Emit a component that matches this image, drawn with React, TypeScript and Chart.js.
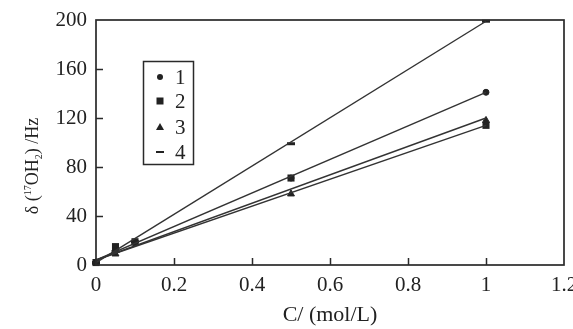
import React, { useEffect, useRef } from 'react';
import { Chart, registerables } from 'chart.js';
Chart.register(...registerables);

// Concentrations (mol/L) and measured shifts (Hz)
const concentrations = [0, 0.05, 0.1, 0.5, 1];
const series1 = [2, 12, 18, 71, 141];
const series2 = [2, 15, 19, 71, 114];
const series3 = [2, 9, 18, 58, 118];
const series4 = [2, 11, 19, 99, 199];

// Linear fit lines (endpoints)
const fitX = [0, 1];
const fit1 = [4, 141];
const fit2 = [4, 114];
const fit3 = [4, 120];
const fit4 = [2, 199];

const legendLabels = ['1', '2', '3', '4'];
const xTicks = [0, 0.2, 0.4, 0.6, 0.8, 1, 1.2];
const yTicks = [0, 40, 80, 120, 160, 200];

const FONT = '"Liberation Serif", "DejaVu Serif", serif';
const INK = '#222';
const LINE = '#333';

const pts = (xs: number[], ys: number[]) => xs.map((x, i) => ({ x, y: ys[i] }));

const framePlugin = {
  id: 'frameTicks',
  afterDatasetsDraw(chart: any) {
    const { ctx, chartArea, scales } = chart;
    const { left, right, top, bottom } = chartArea;
    const xs = scales.x, ys = scales.y;
    ctx.save();
    ctx.strokeStyle = '#2a2a2a';
    ctx.lineWidth = 1.7;
    ctx.strokeRect(left, top, right - left, bottom - top);
    ctx.lineWidth = 1.5;
    ctx.beginPath();
    xTicks.forEach((v) => {
      const px = Math.round(xs.getPixelForValue(v)) + 0.5;
      if (v > 0 && v < 1.2) {
        ctx.moveTo(px, bottom);
        ctx.lineTo(px, bottom - 7);
      }
    });
    yTicks.forEach((v) => {
      const py = Math.round(ys.getPixelForValue(v)) + 0.5;
      if (v > 0 && v < 200) {
        ctx.moveTo(left, py);
        ctx.lineTo(left + 7, py);
      }
    });
    ctx.stroke();
    ctx.restore();
  },
  afterDraw(chart: any) {
    const { ctx } = chart;
    ctx.save();
    // Y axis title with super/subscripts
    ctx.translate(32, 166);
    ctx.rotate(-Math.PI / 2);
    ctx.fillStyle = INK;
    ctx.textBaseline = 'alphabetic';
    const parts = [
      { t: 'δ (', s: 18, dy: 0 },
      { t: '17', s: 10, dy: -7 },
      { t: 'OH', s: 18, dy: 0 },
      { t: '2', s: 10, dy: 4 },
      { t: ') /Hz', s: 18, dy: 0 },
    ];
    let total = 0;
    parts.forEach((p) => {
      ctx.font = `${p.s}px ${FONT}`;
      total += ctx.measureText(p.t).width;
    });
    let cx = -total / 2;
    parts.forEach((p) => {
      ctx.font = `${p.s}px ${FONT}`;
      ctx.fillText(p.t, cx, 6 + p.dy);
      cx += ctx.measureText(p.t).width;
    });
    ctx.restore();

    // Legend box
    ctx.save();
    ctx.fillStyle = '#fff';
    ctx.fillRect(143.5, 61.5, 50, 103);
    ctx.strokeStyle = '#2a2a2a';
    ctx.lineWidth = 1.5;
    ctx.strokeRect(143.5, 61.5, 50, 103);
    const rows = [77, 101, 127, 152];
    ctx.fillStyle = INK;
    ctx.font = `21px ${FONT}`;
    ctx.textBaseline = 'middle';
    rows.forEach((ry, i) => {
      const mx = 160;
      ctx.beginPath();
      if (i === 0) {
        ctx.arc(mx, ry, 3, 0, Math.PI * 2);
        ctx.fill();
      } else if (i === 1) {
        ctx.fillRect(mx - 3.5, ry - 3.5, 7, 7);
      } else if (i === 2) {
        ctx.moveTo(mx, ry - 4);
        ctx.lineTo(mx + 4, ry + 3);
        ctx.lineTo(mx - 4, ry + 3);
        ctx.closePath();
        ctx.fill();
      } else {
        ctx.fillRect(mx - 4, ry - 1, 8, 2);
      }
      ctx.fillText(legendLabels[i], 175, ry + 1);
    });
    ctx.restore();
  },
};

export default function App() {
  const ref = useRef<HTMLCanvasElement>(null);
  useEffect(() => {
    const fitStyle = {
      showLine: true,
      borderColor: LINE,
      borderWidth: 1.4,
      pointRadius: 0,
      fill: false,
    };
    const chart = new Chart(ref.current as HTMLCanvasElement, {
      type: 'scatter',
      data: {
        datasets: [
          { label: 'fit 4', data: pts(fitX, fit4), ...fitStyle },
          { label: 'fit 1', data: pts(fitX, fit1), ...fitStyle },
          { label: 'fit 2', data: pts(fitX, fit2), ...fitStyle },
          { label: 'fit 3', data: pts(fitX, fit3), ...fitStyle },
          {
            label: '1', data: pts(concentrations, series1), pointStyle: 'circle',
            pointRadius: 3, backgroundColor: INK, borderColor: INK, borderWidth: 1, clip: false,
          },
          {
            label: '2', data: pts(concentrations, series2), pointStyle: 'rect',
            pointRadius: 5, backgroundColor: INK, borderColor: INK, borderWidth: 0, clip: false,
          },
          {
            label: '3', data: pts(concentrations, series3), pointStyle: 'triangle',
            pointRadius: 4, backgroundColor: INK, borderColor: INK, borderWidth: 1, clip: false,
          },
          {
            label: '4', data: pts(concentrations, series4), pointStyle: 'line',
            pointRadius: 4, backgroundColor: INK, borderColor: INK, borderWidth: 3, clip: false,
          },
        ],
      } as any,
      options: {
        responsive: false,
        animation: false,
        devicePixelRatio: 1,
        layout: { padding: { top: 20, right: 9, left: 0, bottom: 0 } },
        plugins: { legend: { display: false }, tooltip: { enabled: false } },
        scales: {
          x: {
            type: 'linear',
            min: 0,
            max: 1.2,
            grid: { display: false, drawTicks: false },
            border: { display: false },
            afterBuildTicks: (s: any) => { s.ticks = xTicks.map((v) => ({ value: v })); },
            afterFit: (s: any) => { s.height = 64; s.paddingLeft = 0; s.paddingRight = 0; },
            ticks: {
              padding: 8,
              color: INK,
              font: { family: FONT, size: 21 },
              maxRotation: 0,
              autoSkip: false,
              callback: (v: any) => String(Number(Number(v).toFixed(1))),
            },
            title: {
              display: true,
              text: 'C/ (mol/L)',
              color: INK,
              font: { family: FONT, size: 22 },
              padding: { top: 0, bottom: 1 },
            },
          },
          y: {
            type: 'linear',
            min: 0,
            max: 200,
            grid: { display: false, drawTicks: false },
            border: { display: false },
            afterBuildTicks: (s: any) => { s.ticks = yTicks.map((v) => ({ value: v })); },
            afterFit: (s: any) => { s.width = 96; s.paddingTop = 0; s.paddingBottom = 0; },
            ticks: {
              padding: 9,
              color: INK,
              font: { family: FONT, size: 21 },
              autoSkip: false,
            },
          },
        },
      } as any,
      plugins: [framePlugin],
    });
    return () => chart.destroy();
  }, []);
  return (
    <div style={{ position: 'absolute', left: 0, top: 0, width: 573, height: 329, background: '#fff' }}>
      <canvas ref={ref} width={573} height={329} style={{ width: 573, height: 329, display: 'block' }} />
    </div>
  );
}
